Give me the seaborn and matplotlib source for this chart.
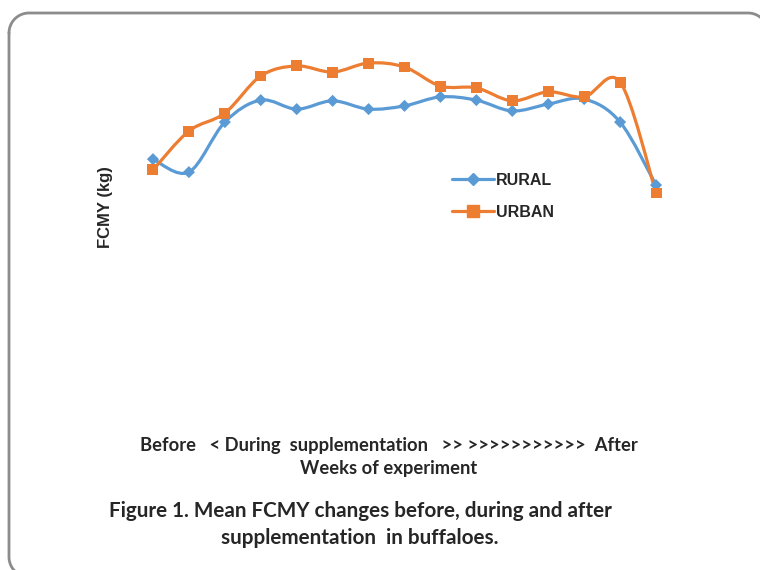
import numpy as np
import pandas as pd
import matplotlib.pyplot as plt
import seaborn as sns
from matplotlib.path import Path
from matplotlib.patches import PathPatch
from matplotlib.lines import Line2D

# FCMY per week (kg)
weeks = list(range(1, 16))
rural = [6.69, 6.33, 7.72, 8.33, 8.08, 8.31, 8.08, 8.17, 8.42, 8.33, 8.03, 8.22, 8.36, 7.72, 5.97]
urban = [6.39, 7.47, 7.97, 9.00, 9.28, 9.11, 9.36, 9.25, 8.72, 8.67, 8.31, 8.56, 8.42, 8.83, 5.75]

BLUE = "#5B9BD5"
ORANGE = "#ED7D31"
W, H = 760, 570


def smooth_path(x, y):
    # excel style smoothed line: catmull-rom segments as cubic beziers
    pts = np.column_stack([x, y]).astype(float)
    pad = np.vstack([pts[0], pts, pts[-1]])
    verts = [pts[0]]
    codes = [Path.MOVETO]
    for i in range(1, len(pad) - 2):
        p0, p1, p2, p3 = pad[i - 1], pad[i], pad[i + 1], pad[i + 2]
        verts += [p1 + (p2 - p0) / 6, p2 - (p3 - p1) / 6, p2]
        codes += [Path.CURVE4] * 3
    return Path(verts, codes)


def frame_outline(x0, y0, x1, y1, r):
    # rounded rectangle outline in pixel coords (y down), returned as figure fractions
    xs, ys = [], []
    corners = [(x0 + r, y0 + r, 180, 270), (x1 - r, y0 + r, 270, 360),
               (x1 - r, y1 - r, 0, 90), (x0 + r, y1 - r, 90, 180)]
    for cx, cy, a0, a1 in corners:
        t = np.radians(np.linspace(a0, a1, 30))
        xs += list(cx + r * np.cos(t))
        ys += list(cy + r * np.sin(t))
    xs.append(xs[0])
    ys.append(ys[0])
    return np.array(xs) / W, 1 - np.array(ys) / H


sns.set_theme(style="white")
plt.rcParams["font.family"] = ["Liberation Sans", "DejaVu Sans"]

fig = plt.figure(figsize=(7.6, 5.7), dpi=100)
ax = fig.add_axes([135 / W, 1 - 400 / H, 539 / W, 360 / H])
ax.set_facecolor("none")

df = pd.DataFrame({
    "week": weeks * 2,
    "fcmy": rural + urban,
    "group": ["RURAL"] * len(weeks) + ["URBAN"] * len(weeks),
})

for vals, col in [(rural, BLUE), (urban, ORANGE)]:
    ax.add_patch(PathPatch(smooth_path(weeks, vals), facecolor="none",
                           edgecolor=col, lw=2.3, capstyle="round", zorder=2))

sns.scatterplot(data=df, x="week", y="fcmy", hue="group", style="group",
                markers={"RURAL": "D", "URBAN": "s"},
                palette={"RURAL": BLUE, "URBAN": ORANGE},
                size="group", sizes={"RURAL": 38, "URBAN": 62},
                linewidth=0, legend=False, zorder=3, ax=ax)

ax.set_xlim(0.5, 15.5)
ax.set_ylim(0, 10)
ax.set_xticks([])
ax.set_yticks([])
sns.despine(ax=ax, left=True, bottom=True)

ax.set_ylabel("FCMY (kg)", fontsize=12, fontweight="bold")
ax.yaxis.set_label_coords(-0.041, 0.535)
ax.set_xlabel("Before   < During  supplementation   >> >>>>>>>>>>>  After\nWeeks of experiment",
              fontsize=13.2, fontweight="bold", family=["Lato", "DejaVu Sans"],
              linespacing=1.4)
ax.xaxis.set_label_coords(0.471, -0.103)
ax.xaxis.label.set_va("top")

handles = [
    Line2D([], [], color=BLUE, lw=2.3, marker="D", markersize=6),
    Line2D([], [], color=ORANGE, lw=2.3, marker="s", markersize=8),
]
fig.legend(handles, ["RURAL", "URBAN"], loc="upper left",
           bbox_to_anchor=(444 / W, 1 - 165 / H), frameon=False,
           borderpad=0, handlelength=2.6, handletextpad=0.15,
           labelspacing=1.05, prop={"weight": "bold", "size": 11.5})

fig.text(360 / W, 1 - 511 / H, "Figure 1. Mean FCMY changes before, during and after",
         ha="center", va="center", fontsize=14.9, fontweight="bold",
         family=["Lato", "DejaVu Sans"])
fig.text(360 / W, 1 - 538 / H, "supplementation  in buffaloes.",
         ha="center", va="center", fontsize=14.9, fontweight="bold",
         family=["Lato", "DejaVu Sans"])

# rounded frame around the chart
fx, fy = frame_outline(9, 13, 768, 577, 20)
fig.add_artist(Line2D(fx, fy, transform=fig.transFigure, color="#8c8c8c", lw=2, zorder=5))

fig.savefig("out.png", dpi=100)
